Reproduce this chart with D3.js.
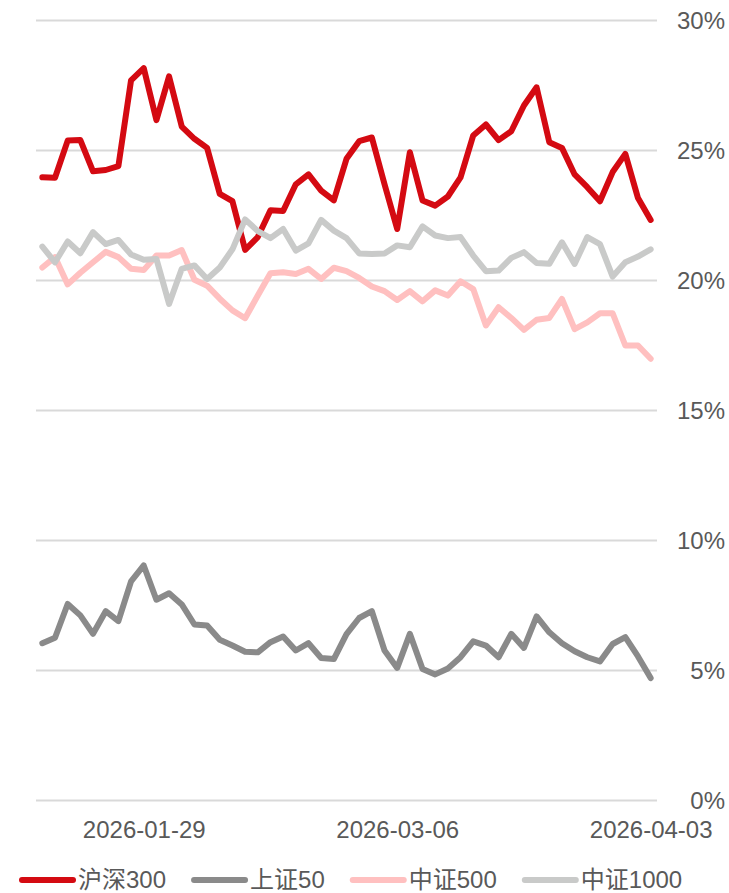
<!DOCTYPE html>
<html>
<head>
<meta charset="utf-8">
<script src="https://cdn.jsdelivr.net/npm/d3@7/dist/d3.min.js"></script>
<style>
  body { margin: 0; background: #fff; }
  svg text { font-family: "Liberation Sans", Arial, "Noto Sans CJK SC", sans-serif; fill: #595959; }
</style>
</head>
<body>
<svg id="chart" width="729" height="893"></svg>
<script>
// trading days, 2026-01-19 .. 2026-04-03
var dates = [
  "2026-01-19","2026-01-20","2026-01-21","2026-01-22","2026-01-23",
  "2026-01-26","2026-01-27","2026-01-28","2026-01-29","2026-01-30",
  "2026-02-02","2026-02-03","2026-02-04","2026-02-05","2026-02-06",
  "2026-02-09","2026-02-10","2026-02-11","2026-02-12","2026-02-13",
  "2026-02-24","2026-02-25","2026-02-26","2026-02-27",
  "2026-03-02","2026-03-03","2026-03-04","2026-03-05","2026-03-06",
  "2026-03-09","2026-03-10","2026-03-11","2026-03-12","2026-03-13",
  "2026-03-16","2026-03-17","2026-03-18","2026-03-19","2026-03-20",
  "2026-03-23","2026-03-24","2026-03-25","2026-03-26","2026-03-27",
  "2026-03-30","2026-03-31","2026-04-01","2026-04-02","2026-04-03"
];

var hs300 = [23.97,23.95,25.38,25.4,24.2,24.25,24.4,27.7,28.17,26.17,
  27.85,25.92,25.45,25.1,23.33,23.05,21.18,21.67,22.7,22.67,
  23.7,24.08,23.46,23.08,24.68,25.36,25.5,23.7,21.98,24.93,
  23.08,22.88,23.23,23.97,25.58,26.0,25.4,25.74,26.73,27.43,
  25.32,25.1,24.08,23.59,23.05,24.17,24.87,23.17,22.33];

var sz50 = [6.05,6.26,7.56,7.12,6.41,7.28,6.9,8.43,9.04,7.72,
  7.97,7.54,6.77,6.73,6.18,5.96,5.72,5.7,6.09,6.31,
  5.77,6.05,5.48,5.44,6.4,7.02,7.28,5.77,5.1,6.41,
  5.06,4.85,5.08,5.51,6.12,5.96,5.51,6.41,5.87,7.08,
  6.47,6.05,5.74,5.51,5.35,6.02,6.28,5.54,4.71];

var zz500 = [20.5,20.9,19.85,20.3,20.7,21.1,20.9,20.45,20.4,20.96,
  20.96,21.17,20.03,19.8,19.3,18.85,18.55,19.42,20.28,20.32,
  20.25,20.45,20.06,20.49,20.36,20.1,19.77,19.59,19.25,19.59,
  19.2,19.62,19.42,19.97,19.67,18.27,18.97,18.56,18.1,18.49,
  18.56,19.29,18.13,18.39,18.74,18.74,17.5,17.5,16.99];

var zz1000 = [21.3,20.7,21.5,21.05,21.86,21.4,21.56,21.0,20.8,20.83,
  19.1,20.45,20.58,20.06,20.5,21.2,22.35,21.9,21.63,21.98,
  21.15,21.43,22.33,21.92,21.63,21.04,21.02,21.04,21.35,21.28,
  22.08,21.73,21.63,21.67,20.96,20.36,20.38,20.87,21.09,20.67,
  20.64,21.47,20.64,21.67,21.4,20.15,20.7,20.92,21.2];

var seriesNames = ["沪深300", "上证50", "中证500", "中证1000"];
var seriesColors = ["#d40a12", "#8a8a8a", "#ffc0c0", "#c9cac9"];
var yTicks = [0, 5, 10, 15, 20, 25, 30];
var xTickLabels = ["2026-01-29", "2026-03-06", "2026-04-03"];

var seriesValues = [hs300, sz50, zz500, zz1000];

var svg = d3.select("#chart");

var x = d3.scalePoint().domain(dates).range([36, 657]).padding(0.5);
var y = d3.scaleLinear().domain([0, 30]).range([800.5, 20.5]);

// gridlines
svg.append("g").selectAll("line")
  .data(yTicks)
  .join("line")
  .attr("x1", 36).attr("x2", 657)
  .attr("y1", d => y(d)).attr("y2", d => y(d))
  .attr("stroke", "#d9d9d9")
  .attr("stroke-width", 2);

// y axis on the right
var yAxis = svg.append("g")
  .attr("transform", "translate(725,0)")
  .call(d3.axisRight(y).tickValues(yTicks).tickFormat(d => d + "%").tickSize(0).tickPadding(0));
yAxis.select(".domain").remove();
yAxis.selectAll("text")
  .attr("text-anchor", "end")
  .attr("x", 0)
  .attr("dy", "0.35em")
  .style("font-size", "24px")
  .attr("fill", "#595959");

// x axis
var xAxis = svg.append("g")
  .attr("transform", "translate(0,800.5)")
  .call(d3.axisBottom(x).tickValues(xTickLabels).tickSize(0).tickPadding(0));
xAxis.select(".domain").remove();
xAxis.selectAll("text")
  .attr("y", 29)
  .attr("dy", "0.35em")
  .style("font-size", "24px")
  .attr("fill", "#595959");

// lines
var line = d3.line()
  .x((d, i) => x(dates[i]))
  .y(d => y(d));

svg.append("g").selectAll("path")
  .data(seriesValues)
  .join("path")
  .attr("d", d => line(d))
  .attr("fill", "none")
  .attr("stroke", (d, i) => seriesColors[i])
  .attr("stroke-width", 6)
  .attr("stroke-linejoin", "round")
  .attr("stroke-linecap", "round");

// legend
var legend = svg.append("g").attr("transform", "translate(0,880)");
var lx = 20;
seriesNames.forEach(function(name, i) {
  var g = legend.append("g").attr("transform", "translate(" + lx + ",0)");
  g.append("line")
    .attr("x1", 2).attr("x2", 53)
    .attr("y1", 0).attr("y2", 0)
    .attr("stroke", seriesColors[i])
    .attr("stroke-width", 6)
    .attr("stroke-linecap", "round");
  var t = g.append("text")
    .attr("x", 58)
    .attr("dy", "0.35em")
    .style("font-size", "24px")
    .text(name);
  lx += 58 + t.node().getComputedTextLength() + 26;
});
</script>
</body>
</html>
